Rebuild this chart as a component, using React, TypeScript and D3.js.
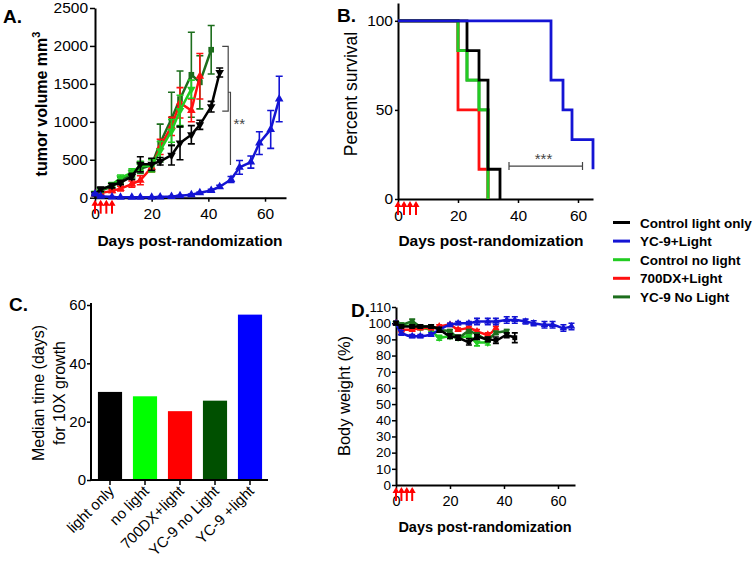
import React, { useEffect, useRef } from 'react';
import * as d3 from 'd3';

// ---------- DATA ----------
const legendLabels = ['Control light only', 'YC-9+Light', 'Control no light', '700DX+Light', 'YC-9 No Light'];
const daysA = [0, 2, 6, 9, 13, 16, 20, 23, 27, 30, 34, 37, 41, 44, 48, 51, 55, 58, 62, 65];
const treatmentDays = [0, 2, 4, 6];

// Panel A: tumor volume (mm3)
const volControlLight = [50, 110, 160, 200, 280, 440, 440, 480, 560, 720, 830, 960, 1200, 1650];
const volControlLightErr = [20, 30, 30, 30, 40, 100, 80, 50, 130, 220, 120, 60, 70, 60];
const volYC9Light = [50, 20, 10, 5, 5, 5, 5, 10, 15, 25, 40, 65, 95, 145, 240, 400, 470, 720, 900, 1300];
const volYC9LightErr = [10, 8, 5, 5, 5, 5, 5, 5, 5, 5, 8, 10, 15, 20, 40, 90, 80, 150, 250, 300];
const volControlNoLight = [60, 100, 170, 260, 330, 420, 420, 620, 880, 1150, 1430];
const volControlNoLightErr = [20, 30, 30, 40, 50, 60, 80, 120, 150, 200, 120];
const vol700DX = [50, 60, 90, 120, 180, 230, 400, 670, 940, 1250, 1150, 1600];
const vol700DXErr = [15, 20, 20, 30, 40, 60, 60, 100, 120, 200, 150, 300];
const volYC9NoLight = [50, 90, 150, 230, 310, 380, 430, 720, 1040, 1300, 1620, 1520, 1950];
const volYC9NoLightErr = [20, 30, 40, 40, 50, 60, 80, 250, 350, 370, 560, 350, 320];

// Panel B: percent survival (step points)
const survDaysControlLight = [0, 23, 27, 30, 34];
const survControlLight = [100, 83.3, 66.7, 16.7, 0];
const survDaysYC9Light = [0, 51, 55, 58, 65];
const survYC9Light = [100, 66.7, 50, 33.3, 16.7];
const survDaysControlNoLight = [0, 20, 23, 27, 30];
const survControlNoLight = [100, 83.3, 66.7, 50, 0];
const survDays700DX = [0, 20, 27, 30];
const surv700DX = [100, 50, 16.7, 0];
const survDaysYC9NoLight = [0, 20, 23, 27, 30];
const survYC9NoLight = [100, 83.3, 66.7, 50, 0];

// Panel C: median time to 10X growth
const barCategories = ['light only', 'no light', '700DX+light', 'YC-9 no Light', 'YC-9 +light'];
const barValues = [30.2, 28.7, 23.6, 27.2, 56.7];

// Panel D: body weight (%)
const bwControlLight = [100, 98, 98, 98, 98, 96, 92, 91, 88.5, 91.5, 90, 89.5, 92.5, 91];
const bwControlLightErr = [1, 1, 1, 1, 1, 1.5, 1.5, 1.5, 2, 1.5, 1.5, 2, 1.5, 3];
const bwYC9Light = [100, 94, 92, 92, 93, 96, 99, 100, 100, 101, 101, 101, 102, 102, 101, 100, 99, 99, 97, 98];
const bwYC9LightErr = [1, 1.5, 1, 1, 1, 1, 1, 1, 1, 2, 2, 2, 2, 2, 1.5, 1.5, 2, 2, 2, 2];
const bwControlNoLight = [100, 99, 98, 97, 96, 91, 92, 91, 92, 88, 88];
const bwControlNoLightErr = [1, 1, 1, 1, 1, 1.5, 1.5, 1.5, 1.5, 2, 1.5];
const bw700DX = [100, 96, 96, 97, 97, 98, 99, 96, 97, 95, 93, 97];
const bw700DXErr = [1, 1.5, 1, 1, 1, 1, 1, 1, 1, 1, 1, 1];
const bwYC9NoLight = [100, 99, 101, 98, 98, 96, 95, 91, 95, 93, 90, 94, 95];
const bwYC9NoLightErr = [1, 1, 1.5, 1, 1, 1, 1, 1.5, 1, 1, 1.5, 1, 1];

// ---------- STYLE ----------
const COL = {
  black: '#000000',
  blue: '#1414d4',
  lightGreen: '#22cc22',
  red: '#ff1010',
  darkGreen: '#1d6e1d',
};
const BAR_COLORS = ['#000000', '#00ff00', '#ff0000', '#005000', '#0000ff'];
const FONT = '"Liberation Sans", Arial, Helvetica, sans-serif';

const App = () => {
  const ref = useRef<SVGSVGElement>(null);

  useEffect(() => {
    const svg = d3.select(ref.current);
    svg.selectAll('*').remove();

    const styleAxis = (g: any, fs: number) => {
      g.select('.domain').attr('stroke', '#000').attr('stroke-width', 2);
      g.selectAll('.tick line').attr('stroke', '#000').attr('stroke-width', 1.5);
      g.selectAll('.tick text').attr('font-family', FONT).attr('font-size', fs).attr('fill', '#000');
    };

    const addText = (x: number, y: number, txt: string, fs: number, opts: any = {}) => {
      const t = svg.append('text')
        .attr('x', x).attr('y', y)
        .attr('font-family', FONT)
        .attr('font-size', fs)
        .attr('font-weight', opts.bold ? 'bold' : 'normal')
        .attr('text-anchor', opts.anchor || 'start')
        .attr('fill', opts.fill || '#000')
        .text(txt);
      if (opts.rotate) t.attr('transform', `rotate(${opts.rotate},${x},${y})`);
      return t;
    };

    const drawArrows = (x: any, y0: number) => {
      const g = svg.append('g');
      treatmentDays.forEach((d) => {
        const cx = x(d);
        g.append('line').attr('x1', cx).attr('x2', cx).attr('y1', y0 + 4).attr('y2', y0 + 16)
          .attr('stroke', '#ff0000').attr('stroke-width', 2);
        g.append('path')
          .attr('d', `M${cx - 3.5},${y0 + 8} L${cx},${y0 + 2} L${cx + 3.5},${y0 + 8} Z`)
          .attr('fill', '#ff0000');
      });
    };

    const drawSeries = (g: any, x: any, y: any, days: number[], vals: number[], errs: number[], color: string,
      symbol: any, flip: boolean, opts: any) => {
      const pts = vals.map((v, i) => ({ d: days[i], v, e: errs[i] }));
      const line = d3.line<any>().x((p) => x(p.d)).y((p) => y(p.v)).curve(opts.curve || d3.curveLinear);
      g.append('path').attr('d', line(pts)).attr('fill', 'none').attr('stroke', color)
        .attr('stroke-width', opts.lw || 2.5).attr('stroke-linejoin', 'round');
      const cw = opts.cap || 3.5;
      pts.forEach((p) => {
        const cx = x(p.d);
        const yt = y(p.v + p.e);
        const yb = y(Math.max(0, p.v - p.e));
        g.append('path')
          .attr('d', `M${cx},${yt}V${yb}M${cx - cw},${yt}H${cx + cw}M${cx - cw},${yb}H${cx + cw}`)
          .attr('stroke', color).attr('stroke-width', 1.6).attr('fill', 'none');
        g.append('path')
          .attr('d', d3.symbol().type(symbol).size(opts.ms || 32)())
          .attr('transform', `translate(${cx},${y(p.v)})${flip ? ' rotate(180)' : ''}`)
          .attr('fill', color);
      });
    };

    // ================= PANEL A =================
    {
      const x = d3.scaleLinear().domain([0, 67.4]).range([95, 286]);
      const y = d3.scaleLinear().domain([0, 2500]).range([197.7, 8]);
      const gx = svg.append('g').attr('transform', `translate(0,${y(0)})`)
        .call(d3.axisBottom(x).tickValues([0, 20, 40, 60]).tickSize(4).tickSizeOuter(0).tickPadding(6).tickFormat(d3.format('d')));
      styleAxis(gx, 15.5);
      const gy = svg.append('g').attr('transform', `translate(${x(0)},0)`)
        .call(d3.axisLeft(y).tickValues([0, 500, 1000, 1500, 2000, 2500]).tickSize(5).tickSizeOuter(0).tickPadding(2).tickFormat(d3.format('d')));
      styleAxis(gy, 15.5);

      const g = svg.append('g');
      drawSeries(g, x, y, daysA, volYC9NoLight, volYC9NoLightErr, COL.darkGreen, d3.symbolSquare, false, {});
      drawSeries(g, x, y, daysA, vol700DX, vol700DXErr, COL.red, d3.symbolTriangle, false, {});
      drawSeries(g, x, y, daysA, volControlNoLight, volControlNoLightErr, COL.lightGreen, d3.symbolTriangle, true, {});
      drawSeries(g, x, y, daysA, volControlLight, volControlLightErr, COL.black, d3.symbolTriangle, true, {});
      drawSeries(g, x, y, daysA, volYC9Light, volYC9LightErr, COL.blue, d3.symbolTriangle, false, {});

      // significance brackets
      g.append('path')
        .attr('d', `M${x(44.9)},${y(1995)}H${x(47)}V${y(1140)}H${x(44.9)}M${x(47)},${y(1390)}H${x(47.8)}V${y(430)}`)
        .attr('fill', 'none').attr('stroke', '#444').attr('stroke-width', 1.2);
      addText(x(50.9), y(900), '**', 15, { anchor: 'middle', fill: '#444' });

      drawArrows(x, y(0));
      addText(3, 23, 'A.', 19, { bold: true });
      addText(190, 246, 'Days post-randomization', 15.5, { bold: true, anchor: 'middle' });
      const t = addText(47, 104, 'tumor volume mm', 16, { bold: true, anchor: 'middle', rotate: -90 });
      t.append('tspan').attr('dy', -7).attr('font-size', 11).text('3');
    }

    // ================= PANEL B =================
    {
      const x = d3.scaleLinear().domain([0, 65]).range([398, 593]);
      const y = d3.scaleLinear().domain([0, 110]).range([199, 3]);
      const gx = svg.append('g').attr('transform', `translate(0,${y(0)})`)
        .call(d3.axisBottom(x).tickValues([0, 20, 40, 60]).tickSize(4).tickSizeOuter(0).tickPadding(7).tickFormat(d3.format('d')));
      styleAxis(gx, 15.5);
      const gy = svg.append('g').attr('transform', `translate(${x(0)},0)`)
        .call(d3.axisLeft(y).tickValues([0, 50, 100]).tickSize(3).tickSizeOuter(0).tickPadding(2));
      styleAxis(gy, 15.5);

      const g = svg.append('g');
      const stepLine = (days: number[], vals: number[], color: string) => {
        const pts = vals.map((v, i) => [x(days[i]), y(v)] as [number, number]);
        g.append('path').attr('d', d3.line().curve(d3.curveStepAfter)(pts))
          .attr('fill', 'none').attr('stroke', color).attr('stroke-width', 2.8);
      };
      stepLine(survDaysYC9NoLight, survYC9NoLight, COL.darkGreen);
      stepLine(survDays700DX, surv700DX, COL.red);
      stepLine(survDaysControlNoLight, survControlNoLight, COL.lightGreen);
      stepLine(survDaysControlLight, survControlLight, COL.black);
      stepLine(survDaysYC9Light, survYC9Light, COL.blue);

      const sy = y(18.5);
      g.append('path')
        .attr('d', `M${x(37)},${sy}H${x(61.5)}M${x(37)},${sy - 4}V${sy + 4}M${x(61.5)},${sy - 4}V${sy + 4}`)
        .attr('stroke', '#444').attr('stroke-width', 1.2).attr('fill', 'none');
      addText(x(48.5), sy - 2, '***', 15, { anchor: 'middle', fill: '#444' });

      drawArrows(x, y(0));
      addText(337, 22, 'B.', 19, { bold: true });
      addText(491, 246, 'Days post-randomization', 15.5, { bold: true, anchor: 'middle' });
      addText(357, 94, 'Percent survival', 17.5, { anchor: 'middle', rotate: -90 });

      // legend
      const lg = svg.append('g');
      const legendColors = [COL.black, COL.blue, COL.lightGreen, COL.red, COL.darkGreen];
      legendLabels.forEach((lab, i) => {
        const ly = 222.5 + i * 18.6;
        lg.append('line').attr('x1', 613).attr('x2', 630).attr('y1', ly).attr('y2', ly)
          .attr('stroke', legendColors[i]).attr('stroke-width', 3);
        lg.append('text').attr('x', 640).attr('y', ly + 5).attr('font-family', FONT)
          .attr('font-size', 13.5).attr('font-weight', 'bold').text(lab);
      });
    }

    // ================= PANEL C =================
    {
      const x = d3.scaleBand().domain(barCategories).range([92.5, 267.5]).paddingInner(0.31).paddingOuter(0.155);
      const y = d3.scaleLinear().domain([0, 60]).range([480, 305]);
      const g = svg.append('g');
      g.selectAll('rect').data(barValues).enter().append('rect')
        .attr('x', (_d: number, i: number) => x(barCategories[i]) as number)
        .attr('y', (d: number) => y(d))
        .attr('width', x.bandwidth())
        .attr('height', (d: number) => y(0) - y(d))
        .attr('fill', (_d: number, i: number) => BAR_COLORS[i]);

      const gy = svg.append('g').attr('transform', 'translate(91,0)')
        .call(d3.axisLeft(y).tickValues([0, 20, 40, 60]).tickSize(4).tickSizeOuter(0).tickPadding(1));
      styleAxis(gy, 15);
      gy.select('.domain').attr('d', `M0,${y(0)}V${y(60) - 2}`);

      const gx = svg.append('g').attr('transform', `translate(0,${y(0)})`)
        .call(d3.axisBottom(x).tickSize(5).tickSizeOuter(0).tickFormat(() => ''));
      styleAxis(gx, 15);
      gx.select('.domain').attr('d', 'M91,0H268');
      barCategories.forEach((c) => {
        const cx = (x(c) as number) + x.bandwidth() / 2 + 5;
        addText(cx, 492, c, 15, { anchor: 'end', rotate: -45 });
      });

      addText(9, 311, 'C.', 19, { bold: true });
      addText(44, 393, 'Median time (days)', 16, { anchor: 'middle', rotate: -90 });
      addText(65, 393, 'for 10X growth', 16, { anchor: 'middle', rotate: -90 });
    }

    // ================= PANEL D =================
    {
      const x = d3.scaleLinear().domain([0, 66.3]).range([396, 575]);
      const y = d3.scaleLinear().domain([0, 110]).range([485, 307]);
      const gx = svg.append('g').attr('transform', `translate(0,${y(0)})`)
        .call(d3.axisBottom(x).tickValues([0, 20, 40, 60]).tickSize(4).tickSizeOuter(0).tickPadding(7).tickFormat(d3.format('d')));
      styleAxis(gx, 14.5);
      const gy = svg.append('g').attr('transform', `translate(${x(0)},0)`)
        .call(d3.axisLeft(y).tickValues(d3.range(0, 111, 10)).tickSize(4).tickSizeOuter(0).tickPadding(1));
      styleAxis(gy, 13.5);

      const g = svg.append('g');
      const opts = { curve: d3.curveMonotoneX, ms: 24, cap: 3, lw: 2.5 };
      drawSeries(g, x, y, daysA, bwControlNoLight, bwControlNoLightErr, COL.lightGreen, d3.symbolTriangle, true, opts);
      drawSeries(g, x, y, daysA, bw700DX, bw700DXErr, COL.red, d3.symbolTriangle, false, opts);
      drawSeries(g, x, y, daysA, bwYC9NoLight, bwYC9NoLightErr, COL.darkGreen, d3.symbolSquare, false, opts);
      drawSeries(g, x, y, daysA, bwYC9Light, bwYC9LightErr, COL.blue, d3.symbolTriangle, false, opts);
      drawSeries(g, x, y, daysA, bwControlLight, bwControlLightErr, COL.black, d3.symbolSquare, false, opts);

      drawArrows(x, y(0));
      addText(351, 317, 'D.', 19, { bold: true });
      addText(485, 532, 'Days post-randomization', 14.5, { bold: true, anchor: 'middle' });
      addText(350, 396, 'Body weight (%)', 16.5, { anchor: 'middle', rotate: -90 });
    }
  }, []);

  return (
    <svg
      ref={ref}
      width={755}
      height={565}
      style={{ position: 'absolute', left: 0, top: 0, background: '#fff' }}
    />
  );
};

export default App;
